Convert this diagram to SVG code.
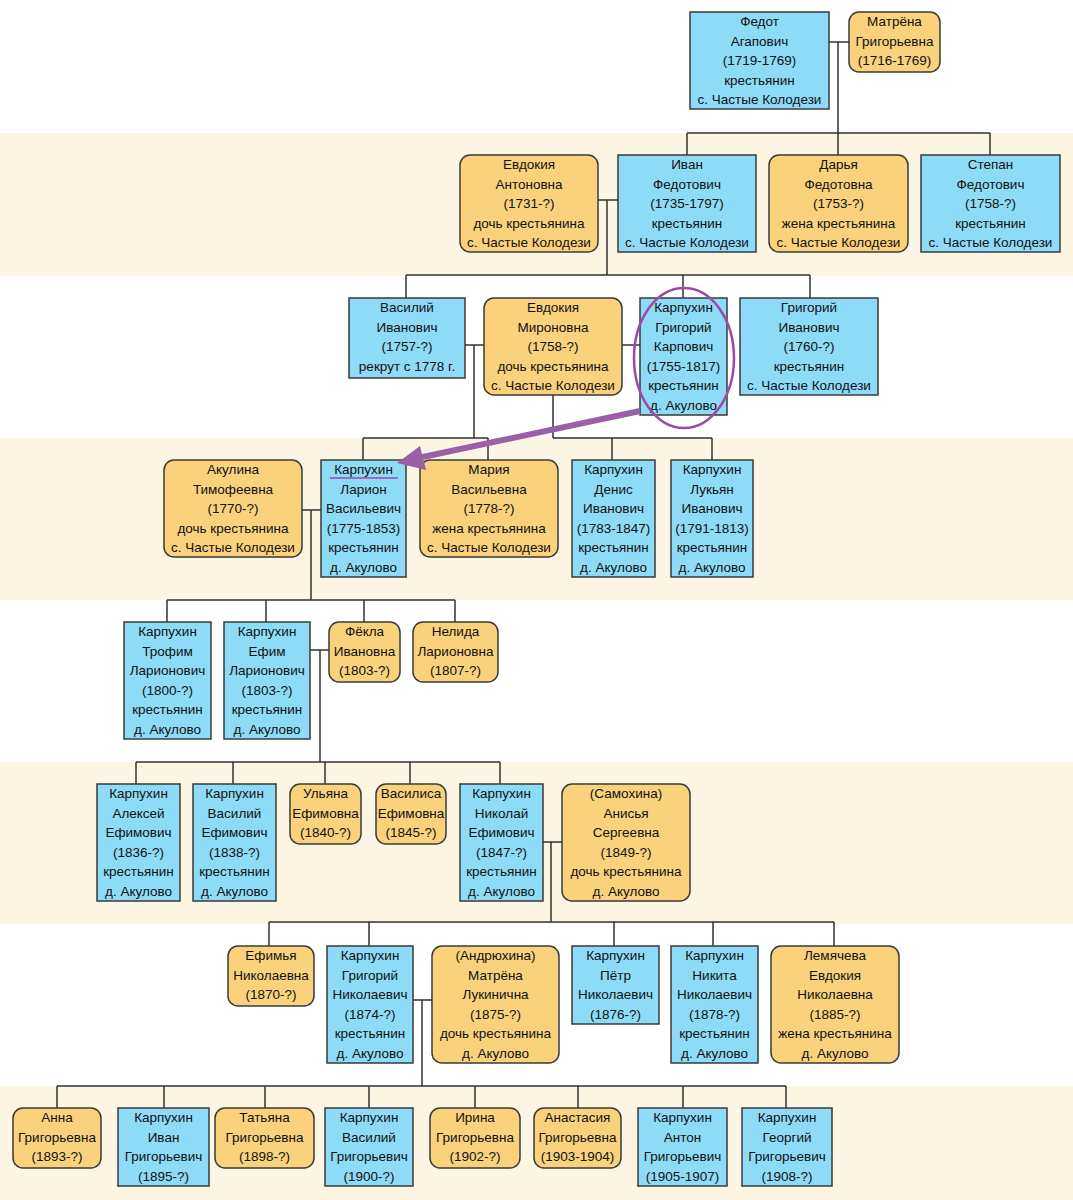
<svg xmlns="http://www.w3.org/2000/svg" width="1073" height="1200" viewBox="0 0 1073 1200">
<style>
.b{fill:#8edbf8;stroke:#3a3a3a;stroke-width:1.5}
.o{fill:#fad27c;stroke:#3a3a3a;stroke-width:1.5}
text{font-family:"Liberation Sans",Arial,sans-serif;font-size:13.5px;fill:#111;text-anchor:middle}
.c{fill:none;stroke:#333;stroke-width:1.5}
</style>
<rect width="1073" height="1200" fill="#fff"/>
<g fill="#fdf5e4">
<rect x="0" y="133" width="1073" height="143"/>
<rect x="0" y="438" width="1073" height="162"/>
<rect x="0" y="762" width="1073" height="162"/>
<rect x="0" y="1086" width="1073" height="114"/>
</g>
<g id="connectors" class="c">
<path d="M829 42H849M838 42V133M687 133H990M687 133V155M838 133V155M990 133V155"/>
<path d="M598 200H618M607 200V275M406 275H810M406 275V298M683 275V298M810 275V298"/>
<path d="M465 345H484M474 345V438M363 438H488M363 438V460M488 438V460"/>
<path d="M622 345H640M553 395V438M553 438H712M612 438V460M712 438V460"/>
<path d="M302 510H321M311 510V600M167 600H455M167 600V622M266 600V622M364 600V622M455 600V622"/>
<path d="M310 650H329M320 650V762M136 762H500M136 762V784M233 762V784M325 762V784M410 762V784M500 762V784"/>
<path d="M543 842H562M551 842V922M269 922H834M269 922V946M369 922V946M614 922V946M713 922V946M834 922V946"/>
<path d="M413 1000H432M422 1000V1086M57 1086H786M57 1086V1108M164 1086V1108M265 1086V1108M369 1086V1108M475 1086V1108M578 1086V1108M683 1086V1108M786 1086V1108"/>
</g>
<g id="n1"><rect class="b" x="690" y="12" width="139" height="97"/><text x="759.5" y="26">Федот</text><text x="759.5" y="45.5">Агапович</text><text x="759.5" y="65">(1719-1769)</text><text x="759.5" y="84.5">крестьянин</text><text x="759.5" y="104">с. Частые Колодези</text></g>
<g id="n2"><rect class="o" x="849" y="12" width="91" height="60" rx="10"/><text x="894.5" y="26">Матрёна</text><text x="894.5" y="45.5">Григорьевна</text><text x="894.5" y="65">(1716-1769)</text></g>
<g id="n3"><rect class="o" x="460" y="155" width="138" height="97" rx="10"/><text x="529" y="169">Евдокия</text><text x="529" y="188.5">Антоновна</text><text x="529" y="208">(1731-?)</text><text x="529" y="227.5">дочь крестьянина</text><text x="529" y="247">с. Частые Колодези</text></g>
<g id="n4"><rect class="b" x="618" y="155" width="138" height="97"/><text x="687" y="169">Иван</text><text x="687" y="188.5">Федотович</text><text x="687" y="208">(1735-1797)</text><text x="687" y="227.5">крестьянин</text><text x="687" y="247">с. Частые Колодези</text></g>
<g id="n5"><rect class="o" x="769" y="155" width="139" height="97" rx="10"/><text x="838.5" y="169">Дарья</text><text x="838.5" y="188.5">Федотовна</text><text x="838.5" y="208">(1753-?)</text><text x="838.5" y="227.5">жена крестьянина</text><text x="838.5" y="247">с. Частые Колодези</text></g>
<g id="n6"><rect class="b" x="921" y="155" width="139" height="97"/><text x="990.5" y="169">Степан</text><text x="990.5" y="188.5">Федотович</text><text x="990.5" y="208">(1758-?)</text><text x="990.5" y="227.5">крестьянин</text><text x="990.5" y="247">с. Частые Колодези</text></g>
<g id="n7"><rect class="b" x="349" y="298" width="116" height="80"/><text x="407" y="312">Василий</text><text x="407" y="331.5">Иванович</text><text x="407" y="351">(1757-?)</text><text x="407" y="370.5">рекрут с 1778 г.</text></g>
<g id="n8"><rect class="o" x="484" y="298" width="138" height="97" rx="10"/><text x="553" y="312">Евдокия</text><text x="553" y="331.5">Мироновна</text><text x="553" y="351">(1758-?)</text><text x="553" y="370.5">дочь крестьянина</text><text x="553" y="390">с. Частые Колодези</text></g>
<g id="n9"><rect class="b" x="640" y="298" width="87" height="117"/><text x="683.5" y="312">Карпухин</text><text x="683.5" y="331.5">Григорий</text><text x="683.5" y="351">Карпович</text><text x="683.5" y="370.5">(1755-1817)</text><text x="683.5" y="390">крестьянин</text><text x="683.5" y="409.5">д. Акулово</text></g>
<g id="n10"><rect class="b" x="740" y="298" width="138" height="97"/><text x="809" y="312">Григорий</text><text x="809" y="331.5">Иванович</text><text x="809" y="351">(1760-?)</text><text x="809" y="370.5">крестьянин</text><text x="809" y="390">с. Частые Колодези</text></g>
<g id="n11"><rect class="o" x="164" y="460" width="138" height="97" rx="10"/><text x="233" y="474">Акулина</text><text x="233" y="493.5">Тимофеевна</text><text x="233" y="513">(1770-?)</text><text x="233" y="532.5">дочь крестьянина</text><text x="233" y="552">с. Частые Колодези</text></g>
<g id="n12"><rect class="b" x="321" y="460" width="85" height="117"/><text x="363.5" y="474">Карпухин</text><text x="363.5" y="493.5">Ларион</text><text x="363.5" y="513">Васильевич</text><text x="363.5" y="532.5">(1775-1853)</text><text x="363.5" y="552">крестьянин</text><text x="363.5" y="571.5">д. Акулово</text><path d="M330 478H398" stroke="#9b4aa8" stroke-width="1.5"/></g>
<g id="n13"><rect class="o" x="420" y="460" width="138" height="97" rx="10"/><text x="489" y="474">Мария</text><text x="489" y="493.5">Васильевна</text><text x="489" y="513">(1778-?)</text><text x="489" y="532.5">жена крестьянина</text><text x="489" y="552">с. Частые Колодези</text></g>
<g id="n14"><rect class="b" x="572" y="460" width="83" height="117"/><text x="613.5" y="474">Карпухин</text><text x="613.5" y="493.5">Денис</text><text x="613.5" y="513">Иванович</text><text x="613.5" y="532.5">(1783-1847)</text><text x="613.5" y="552">крестьянин</text><text x="613.5" y="571.5">д. Акулово</text></g>
<g id="n15"><rect class="b" x="671" y="460" width="82" height="117"/><text x="712" y="474">Карпухин</text><text x="712" y="493.5">Лукьян</text><text x="712" y="513">Иванович</text><text x="712" y="532.5">(1791-1813)</text><text x="712" y="552">крестьянин</text><text x="712" y="571.5">д. Акулово</text></g>
<g id="n16"><rect class="b" x="124" y="622" width="87" height="117"/><text x="167.5" y="636">Карпухин</text><text x="167.5" y="655.5">Трофим</text><text x="167.5" y="675">Ларионович</text><text x="167.5" y="694.5">(1800-?)</text><text x="167.5" y="714">крестьянин</text><text x="167.5" y="733.5">д. Акулово</text></g>
<g id="n17"><rect class="b" x="224" y="622" width="86" height="117"/><text x="267" y="636">Карпухин</text><text x="267" y="655.5">Ефим</text><text x="267" y="675">Ларионович</text><text x="267" y="694.5">(1803-?)</text><text x="267" y="714">крестьянин</text><text x="267" y="733.5">д. Акулово</text></g>
<g id="n18"><rect class="o" x="329" y="622" width="71" height="60" rx="10"/><text x="364.5" y="636">Фёкла</text><text x="364.5" y="655.5">Ивановна</text><text x="364.5" y="675">(1803-?)</text></g>
<g id="n19"><rect class="o" x="413" y="622" width="85" height="60" rx="10"/><text x="455.5" y="636">Нелида</text><text x="455.5" y="655.5">Ларионовна</text><text x="455.5" y="675">(1807-?)</text></g>
<g id="n20"><rect class="b" x="97" y="784" width="83" height="117"/><text x="138.5" y="798">Карпухин</text><text x="138.5" y="817.5">Алексей</text><text x="138.5" y="837">Ефимович</text><text x="138.5" y="856.5">(1836-?)</text><text x="138.5" y="876">крестьянин</text><text x="138.5" y="895.5">д. Акулово</text></g>
<g id="n21"><rect class="b" x="193" y="784" width="83" height="117"/><text x="234.5" y="798">Карпухин</text><text x="234.5" y="817.5">Василий</text><text x="234.5" y="837">Ефимович</text><text x="234.5" y="856.5">(1838-?)</text><text x="234.5" y="876">крестьянин</text><text x="234.5" y="895.5">д. Акулово</text></g>
<g id="n22"><rect class="o" x="290" y="784" width="71" height="60" rx="10"/><text x="325.5" y="798">Ульяна</text><text x="325.5" y="817.5">Ефимовна</text><text x="325.5" y="837">(1840-?)</text></g>
<g id="n23"><rect class="o" x="376" y="784" width="70" height="60" rx="10"/><text x="411" y="798">Василиса</text><text x="411" y="817.5">Ефимовна</text><text x="411" y="837">(1845-?)</text></g>
<g id="n24"><rect class="b" x="460" y="784" width="83" height="117"/><text x="501.5" y="798">Карпухин</text><text x="501.5" y="817.5">Николай</text><text x="501.5" y="837">Ефимович</text><text x="501.5" y="856.5">(1847-?)</text><text x="501.5" y="876">крестьянин</text><text x="501.5" y="895.5">д. Акулово</text></g>
<g id="n25"><rect class="o" x="562" y="784" width="128" height="117" rx="10"/><text x="626" y="798">(Самохина)</text><text x="626" y="817.5">Анисья</text><text x="626" y="837">Сергеевна</text><text x="626" y="856.5">(1849-?)</text><text x="626" y="876">дочь крестьянина</text><text x="626" y="895.5">д. Акулово</text></g>
<g id="n26"><rect class="o" x="228" y="946" width="86" height="60" rx="10"/><text x="271" y="960">Ефимья</text><text x="271" y="979.5">Николаевна</text><text x="271" y="999">(1870-?)</text></g>
<g id="n27"><rect class="b" x="327" y="946" width="86" height="117"/><text x="370" y="960">Карпухин</text><text x="370" y="979.5">Григорий</text><text x="370" y="999">Николаевич</text><text x="370" y="1018.5">(1874-?)</text><text x="370" y="1038">крестьянин</text><text x="370" y="1057.5">д. Акулово</text></g>
<g id="n28"><rect class="o" x="432" y="946" width="127" height="117" rx="10"/><text x="495.5" y="960">(Андрюхина)</text><text x="495.5" y="979.5">Матрёна</text><text x="495.5" y="999">Лукинична</text><text x="495.5" y="1018.5">(1875-?)</text><text x="495.5" y="1038">дочь крестьянина</text><text x="495.5" y="1057.5">д. Акулово</text></g>
<g id="n29"><rect class="b" x="572" y="946" width="87" height="78"/><text x="615.5" y="960">Карпухин</text><text x="615.5" y="979.5">Пётр</text><text x="615.5" y="999">Николаевич</text><text x="615.5" y="1018.5">(1876-?)</text></g>
<g id="n30"><rect class="b" x="671" y="946" width="87" height="117"/><text x="714.5" y="960">Карпухин</text><text x="714.5" y="979.5">Никита</text><text x="714.5" y="999">Николаевич</text><text x="714.5" y="1018.5">(1878-?)</text><text x="714.5" y="1038">крестьянин</text><text x="714.5" y="1057.5">д. Акулово</text></g>
<g id="n31"><rect class="o" x="771" y="946" width="128" height="117" rx="10"/><text x="835" y="960">Лемячева</text><text x="835" y="979.5">Евдокия</text><text x="835" y="999">Николаевна</text><text x="835" y="1018.5">(1885-?)</text><text x="835" y="1038">жена крестьянина</text><text x="835" y="1057.5">д. Акулово</text></g>
<g id="n32"><rect class="o" x="13" y="1108" width="88" height="60" rx="10"/><text x="57" y="1122">Анна</text><text x="57" y="1141.5">Григорьевна</text><text x="57" y="1161">(1893-?)</text></g>
<g id="n33"><rect class="b" x="118" y="1108" width="91" height="78"/><text x="163.5" y="1122">Карпухин</text><text x="163.5" y="1141.5">Иван</text><text x="163.5" y="1161">Григорьевич</text><text x="163.5" y="1180.5">(1895-?)</text></g>
<g id="n34"><rect class="o" x="215" y="1108" width="99" height="60" rx="10"/><text x="264.5" y="1122">Татьяна</text><text x="264.5" y="1141.5">Григорьевна</text><text x="264.5" y="1161">(1898-?)</text></g>
<g id="n35"><rect class="b" x="325" y="1108" width="88" height="78"/><text x="369" y="1122">Карпухин</text><text x="369" y="1141.5">Василий</text><text x="369" y="1161">Григорьевич</text><text x="369" y="1180.5">(1900-?)</text></g>
<g id="n36"><rect class="o" x="430" y="1108" width="90" height="60" rx="10"/><text x="475" y="1122">Ирина</text><text x="475" y="1141.5">Григорьевна</text><text x="475" y="1161">(1902-?)</text></g>
<g id="n37"><rect class="o" x="534" y="1108" width="87" height="60" rx="10"/><text x="577.5" y="1122">Анастасия</text><text x="577.5" y="1141.5">Григорьевна</text><text x="577.5" y="1161">(1903-1904)</text></g>
<g id="n38"><rect class="b" x="638" y="1108" width="89" height="78"/><text x="682.5" y="1122">Карпухин</text><text x="682.5" y="1141.5">Антон</text><text x="682.5" y="1161">Григорьевич</text><text x="682.5" y="1180.5">(1905-1907)</text></g>
<g id="n39"><rect class="b" x="742" y="1108" width="90" height="78"/><text x="787" y="1122">Карпухин</text><text x="787" y="1141.5">Георгий</text><text x="787" y="1161">Григорьевич</text><text x="787" y="1180.5">(1908-?)</text></g>
<g id="highlight">
<ellipse cx="684" cy="358" rx="50" ry="70" fill="none" stroke="#9b4aa8" stroke-width="2.5"/>
<path d="M640 411L418 458" stroke="#9b5fa8" stroke-width="6" fill="none"/>
<path d="M397 463L420 446L426 470Z" fill="#9b5fa8"/>
</g>
</svg>
